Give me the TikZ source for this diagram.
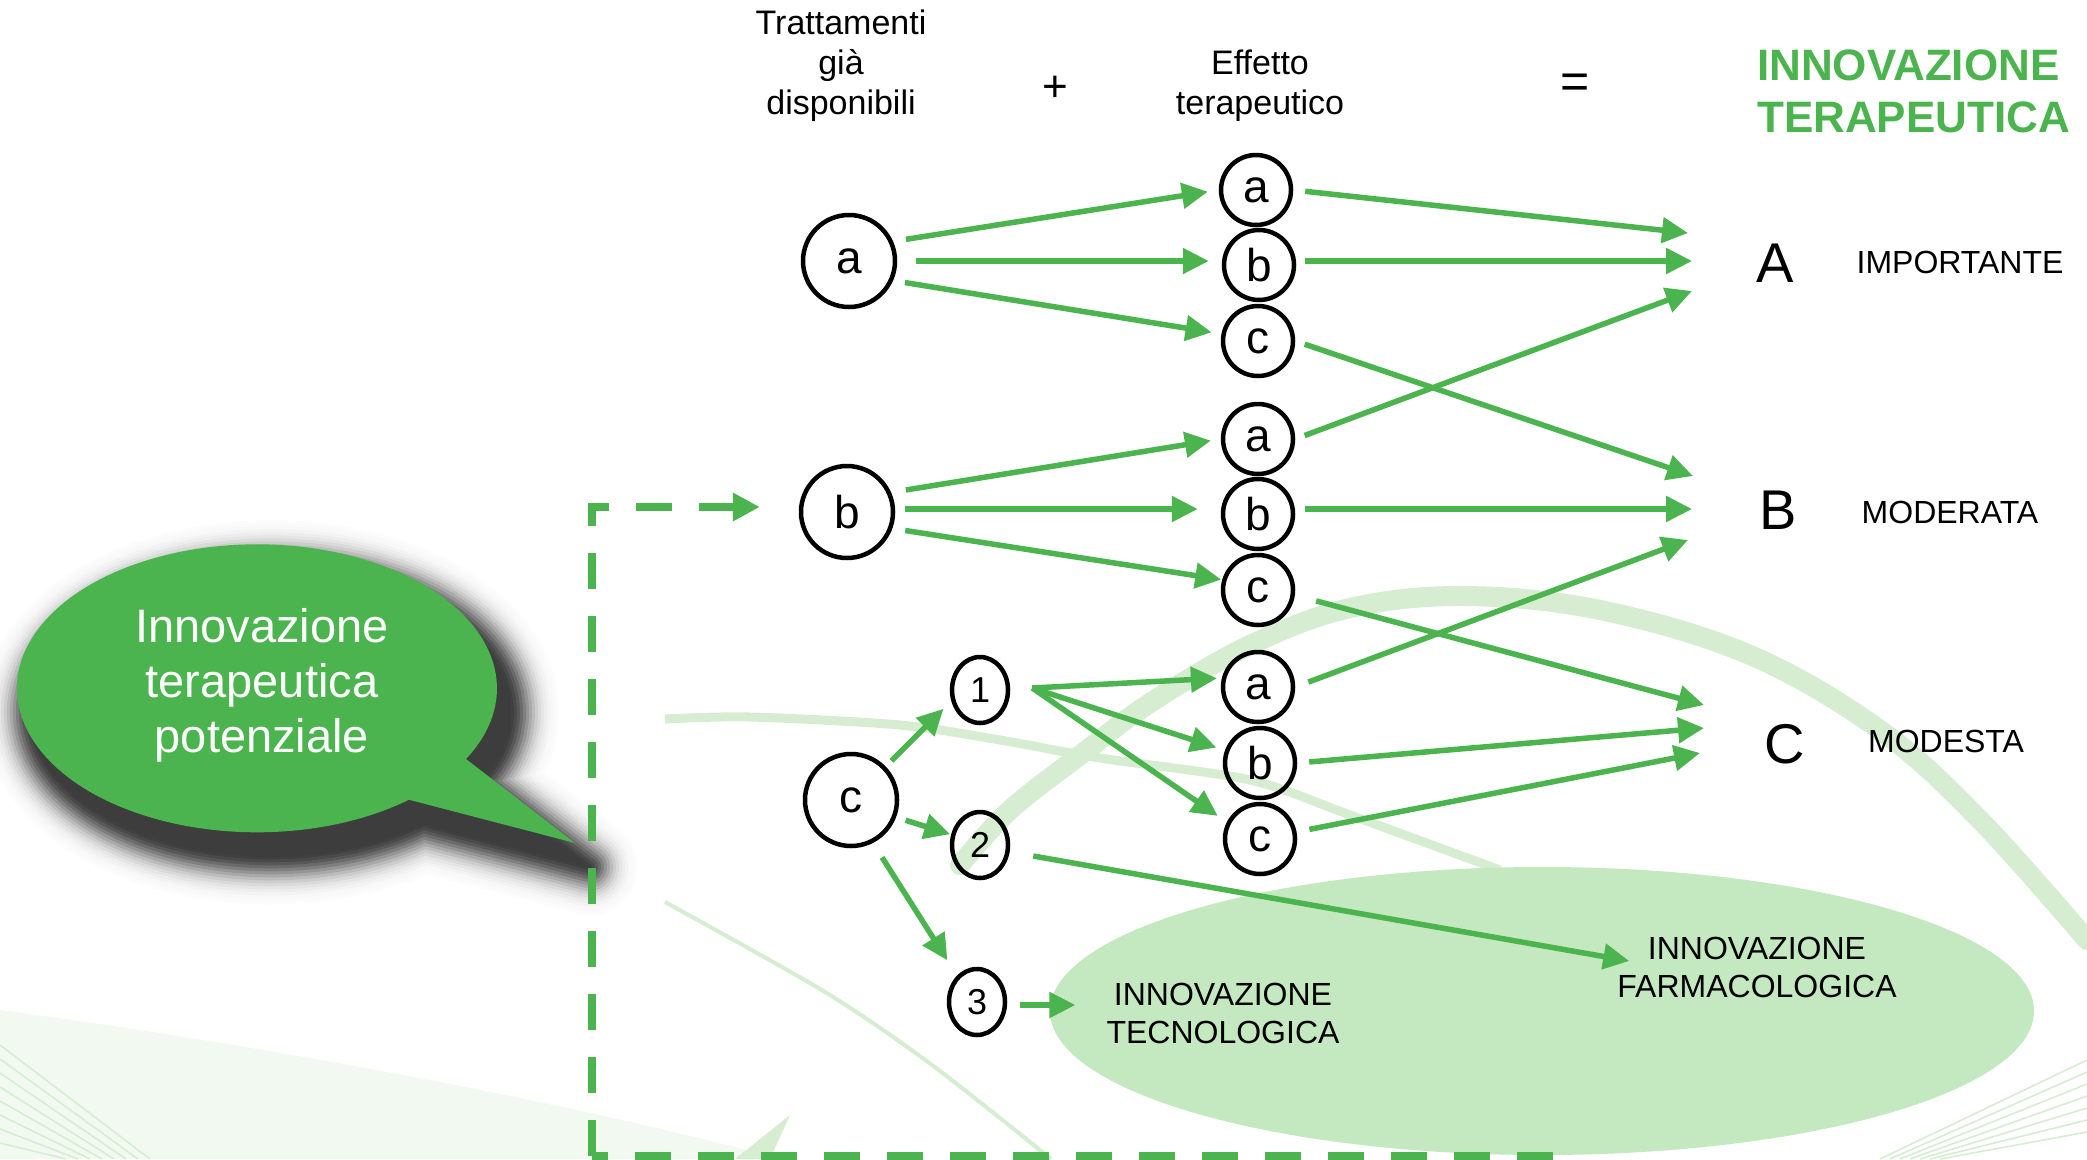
\documentclass[tikz,border=0pt]{standalone}
\usepackage{fontspec}
\setmainfont{Liberation Sans}
\usetikzlibrary{arrows.meta,shapes.geometric,calc}
\definecolor{gr}{RGB}{75,180,78}
\definecolor{lgr}{RGB}{196,232,192}
\definecolor{bgg}{RGB}{214,237,210}
\begin{document}
\begin{tikzpicture}[x=1pt,y=-1pt,
  bigc/.style={circle,draw,line width=4.5pt,minimum size=92pt,inner sep=0pt,font=\fontsize{46}{46}\selectfont},
  effc/.style={circle,draw,line width=4.5pt,minimum size=70pt,inner sep=0pt,font=\fontsize{46}{46}\selectfont},
  smallc/.style={ellipse,draw,line width=4.5pt,minimum width=56pt,minimum height=66pt,inner sep=0pt,font=\fontsize{36}{36}\selectfont},
  garrow/.style={draw=gr,line width=5.5pt,-{Triangle[length=26pt,width=25pt]}},
  hdr/.style={align=center,font=\fontsize{34}{40}\selectfont,inner sep=0pt},
  lvl/.style={font=\fontsize{56}{56}\selectfont,inner sep=0pt},
  lvltxt/.style={font=\fontsize{32}{32}\selectfont,inner sep=0pt},
  inn/.style={align=center,font=\fontsize{32}{38}\selectfont,inner sep=0pt},
  dashline/.style={draw=gr,line width=8pt,dash pattern=on 36pt off 27pt},
  bubblepath/.style={insert path={(466,759) arc[start angle=-29.4,end angle=309.3,x radius=240pt,y radius=144pt] -- (575,843) -- cycle}},
]
\useasboundingbox (0,0) rectangle (2087,1159);
\fill[white] (0,0) rectangle (2087,1159);

% ---- background swooshes
\begin{scope}
\clip (0,0) rectangle (2087,1159);
\fill[bgg,opacity=0.3] (0,1010) .. controls (300,1050) and (600,1110) .. (780,1159) -- (0,1159) -- cycle;
\foreach \i in {0,...,7}{
  \draw[bgg,line width=1.6pt] (0,1045+14*\i) -- (150-12*\i,1159);
}
\foreach \i in {0,...,6}{
  \draw[bgg,line width=1.6pt] (1880+10*\i,1159) -- (2087,1060+12*\i);
}
\draw[bgg,line width=20pt,line cap=round] plot[smooth,tension=0.6] coordinates {(960,865) (1010,810) (1083,753) (1150,703) (1250,645) (1350,608) (1464,596) (1600,610) (1750,655) (1880,730) (1980,820) (2087,940)};
\draw[bgg,line width=9pt] plot[smooth] coordinates {(665,719) (750,717) (900,725) (1000,740) (1100,758) (1250,780) (1350,815) (1500,870)};
\draw[bgg,line width=4pt] plot[smooth] coordinates {(665,902) (825,992) (932,1065) (1051,1159)};
\fill[bgg] (735,1159) -- (790,1115) -- (770,1159) -- cycle;
\end{scope}

% ---- light ellipse
\fill[lgr] (1542,1011) ellipse [x radius=492pt,y radius=144pt];

% ---- speech bubble with soft shadow
\begin{scope}[shift={(14,24)}]
\foreach \k in {16,15,...,0}{
  \pgfmathsetmacro\wk{6*\k}
  \pgfmathsetmacro\pk{76*exp(-(\k*\k)/60)}
  \path[fill=black!\pk,draw=black!\pk,line width=\wk pt,line join=round,bubblepath];
}
\end{scope}
\path[fill=gr,bubblepath];
\node[text=white,align=center,font=\fontsize{47}{55}\selectfont,inner sep=0pt] (bub) at (262,685) {Innovazione\\terapeutica\\potenziale};

% ---- headers
\node[hdr] (h1) at (841,66) {Trattamenti\\già\\disponibili};
\node[font=\fontsize{44}{44}\selectfont,inner sep=0pt] (plus) at (1055,89) {+};
\node[hdr] (h2) at (1260,86) {Effetto\\terapeutico};
\node[font=\fontsize{50}{50}\selectfont,inner sep=0pt] (eq) at (1575,86) {=};
\node[align=left,text=gr,font=\fontsize{44}{52}\selectfont\bfseries,inner sep=0pt,anchor=west] (title) at (1757,91) {INNOVAZIONE\\TERAPEUTICA};

% ---- nodes
\node[bigc] (la) at (849,261) {a};
\node[bigc] (lb) at (847,512) {b};
\node[bigc] (lc) at (851,800) {c};
\node[effc] (g1a) at (1256,190) {a};
\node[effc] (g1b) at (1259,265) {b};
\node[effc] (g1c) at (1258,341) {c};
\node[effc] (g2a) at (1258,439) {a};
\node[effc] (g2b) at (1258,514) {b};
\node[effc] (g2c) at (1258,590) {c};
\node[effc] (g3a) at (1258,687) {a};
\node[effc] (g3b) at (1260,763) {b};
\node[effc] (g3c) at (1260,839) {c};
\node[smallc] (n1) at (980,690) {1};
\node[smallc] (n2) at (980,845) {2};
\node[smallc] (n3) at (977,1002) {3};

\node[lvl] (lA) at (1775,263) {A};
\node[lvltxt] (tA) at (1960,262) {IMPORTANTE};
\node[lvl] (lB) at (1778,510) {B};
\node[lvltxt] (tB) at (1950,512) {MODERATA};
\node[lvl] (lC) at (1785,744) {C};
\node[lvltxt] (tC) at (1946,741) {MODESTA};

\node[inn] (tecno) at (1223,1013) {INNOVAZIONE\\TECNOLOGICA};
\node[inn] (farma) at (1757,967) {INNOVAZIONE\\FARMACOLOGICA};

% ---- dashed connector
\coordinate (dEnd) at (1553,1156);
\coordinate (dCorner) at (592,1156);
\draw[dashline] (dEnd) -- (dCorner);
\draw[dashline,-{Triangle[length=27pt,width=27pt]}] (dCorner) |- ([xshift=-39pt,yshift=5pt]lb.west);

% ---- arrows left
\draw[garrow,shorten <=13pt,shorten >=11pt] (la.24) -- (g1a.west);
\draw[garrow,shorten <=19pt,shorten >=13pt] (la.east) -- ([yshift=4pt]g1b.west);
\draw[garrow,shorten <=12pt,shorten >=10pt] (la.-24) -- (g1c.169);
\draw[garrow,shorten <=15pt,shorten >=10pt] (lb.24) -- (g2a.west);
\draw[garrow,shorten <=10pt,shorten >=23pt] ([yshift=3pt]lb.east) -- ([yshift=5pt]g2b.west);
\draw[garrow,shorten <=13pt,shorten >=1pt] (lb.-20) -- (g2c.164);
\draw[garrow,shorten <=8pt,shorten >=11pt] (lc.44) -- (n1.201);
\draw[garrow,shorten <=10pt,shorten >=1pt] (lc.-21) -- (n2.160);
\draw[garrow,shorten <=17pt,shorten >=18pt] (lc.-63) -- (n3.127);
\draw[garrow,shorten >=5pt] ([xshift=22pt,yshift=2pt]n1.east) -- (g3a.166);
\draw[garrow,shorten >=9pt] ([xshift=22pt,yshift=2pt]n1.east) -- (g3b.160);
\draw[garrow,shorten >=11pt] ([xshift=22pt,yshift=2pt]n1.east) -- (g3c.153);
\draw[garrow] ([xshift=23pt,yshift=-11pt]n2.east) -- ([xshift=12pt,yshift=6pt]farma.west);
\draw[garrow] ([xshift=13pt,yshift=-3pt]n3.east) -- ([xshift=-31pt,yshift=8pt]tecno.west);

% ---- arrows right
\draw[garrow,shorten <=12pt] (g1a.east) -- ([xshift=-87pt,yshift=30pt]lA.center);
\draw[garrow,shorten <=9pt] ([yshift=4pt]g1b.east) -- ([xshift=-83pt,yshift=2pt]lA.center);
\draw[garrow,shorten <=10pt] (g1c.east) -- ([xshift=-85pt,yshift=34pt]lB.center);
\draw[garrow,shorten <=10pt] (g2a.east) -- ([xshift=-83pt,yshift=-28pt]lA.center);
\draw[garrow,shorten <=10pt] ([yshift=5pt]g2b.east) -- ([xshift=-86pt,yshift=1pt]lB.center);
\draw[garrow,shorten <=22pt] (g2c.-8) -- ([xshift=-81pt,yshift=39pt]lC.center);
\draw[garrow,shorten <=14pt] (g3a.east) -- ([xshift=-90pt,yshift=-30pt]lB.center);
\draw[garrow,shorten <=12pt] (g3b.east) -- ([xshift=-81pt,yshift=16pt]lC.center);
\draw[garrow,shorten <=13pt] (g3c.11) -- ([xshift=-85pt,yshift=-9pt]lC.center);
\end{tikzpicture}
\end{document}
